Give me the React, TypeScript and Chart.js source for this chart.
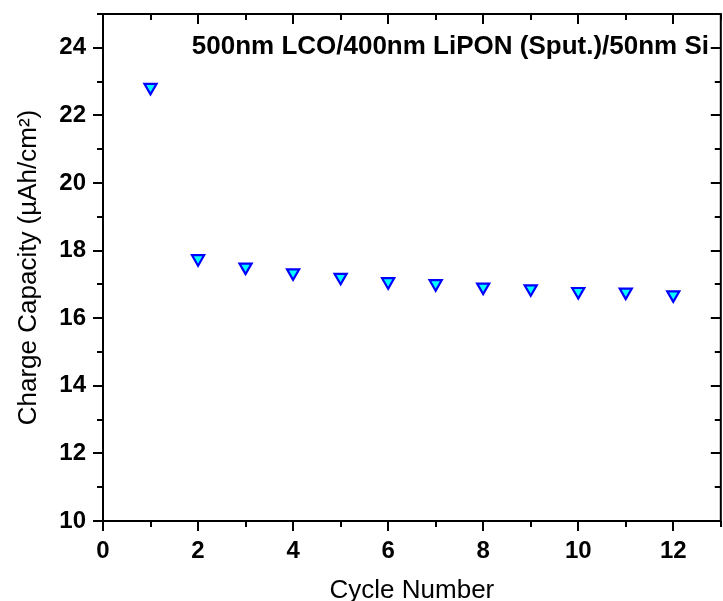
import React, { useEffect, useRef } from "react";
import { Chart, registerables } from "chart.js";

Chart.register(...registerables);

// Charge capacity per cycle
const cycles = [1, 2, 3, 4, 5, 6, 7, 8, 9, 10, 11, 12];
const capacity = [22.83, 17.76, 17.51, 17.34, 17.21, 17.08, 17.02, 16.92, 16.87, 16.79, 16.77, 16.69];

const xTickValues = [0, 2, 4, 6, 8, 10, 12];
const yTickValues = [10, 12, 14, 16, 18, 20, 22, 24];

const cellLabel = "500nm LCO/400nm LiPON (Sput.)/50nm Si";
const xTitle = "Cycle Number";
const yTitle = "Charge Capacity (\u00B5Ah/cm\u00B2)";

const FONT = "'Liberation Sans', Arial, Helvetica, sans-serif";

// Draws the closed frame with Origin-style major/minor ticks and the cell label
const framePlugin = {
  id: "frame",
  afterDraw(chart: any) {
    const { ctx, chartArea, scales } = chart;
    const { left, right, top, bottom } = chartArea;
    const xs = scales.x;
    const ys = scales.y;
    ctx.save();
    ctx.strokeStyle = "#000";
    ctx.lineWidth = 2;
    ctx.strokeRect(left, top, right - left, bottom - top);

    const major = 10;
    const minor = 6;
    ctx.beginPath();
    for (let v = Math.ceil(xs.min); v <= xs.max; v++) {
      const px = Math.round(xs.getPixelForValue(v));
      const len = v % 2 === 0 ? major : minor;
      ctx.moveTo(px, bottom);
      ctx.lineTo(px, bottom + len);
      ctx.moveTo(px, top);
      ctx.lineTo(px, top + len);
    }
    for (let v = Math.ceil(ys.min); v <= ys.max; v++) {
      const py = Math.round(ys.getPixelForValue(v));
      const len = v % 2 === 0 ? major : minor;
      ctx.moveTo(left - len, py);
      ctx.lineTo(left, py);
      ctx.moveTo(right - len, py);
      ctx.lineTo(right, py);
    }
    ctx.stroke();

    ctx.fillStyle = "#000";
    ctx.font = `bold 26px ${FONT}`;
    ctx.textAlign = "right";
    ctx.textBaseline = "alphabetic";
    ctx.fillText(cellLabel, 709, 54);
    ctx.restore();
  },
};

export default function App() {
  const canvasRef = useRef<HTMLCanvasElement | null>(null);

  useEffect(() => {
    const canvas = canvasRef.current;
    if (!canvas) return;
    const chart = new Chart(canvas, {
      type: "scatter",
      data: {
        datasets: [
          {
            data: cycles.map((c, i) => ({ x: c, y: capacity[i] })),
            pointStyle: "triangle",
            rotation: 180,
            radius: 7,
            borderWidth: 2.2,
            backgroundColor: "#00FFFF",
            borderColor: "#0000FF",
            showLine: false,
          },
        ],
      },
      options: {
        responsive: false,
        animation: false,
        layout: { padding: { top: 14, right: 0, left: 0, bottom: 0 } },
        plugins: {
          legend: { display: false },
          tooltip: { enabled: false },
        },
        scales: {
          x: {
            type: "linear",
            min: 0,
            max: 13,
            grid: { display: false, drawTicks: false },
            border: { display: false },
            afterBuildTicks: (scale: any) => {
              scale.ticks = xTickValues.map((v) => ({ value: v }));
            },
            afterFit: (scale: any) => {
              scale.height = 80;
              scale.paddingLeft = 0;
              scale.paddingRight = 0;
            },
            ticks: {
              padding: 16,
              color: "#000",
              maxRotation: 0,
              autoSkip: false,
              font: { family: FONT, size: 24, weight: "bold" },
            },
            title: {
              display: true,
              text: xTitle,
              color: "#000",
              font: { family: FONT, size: 26 },
              padding: { top: 0, bottom: -5 },
            },
          },
          y: {
            type: "linear",
            min: 10,
            max: 25,
            grid: { display: false, drawTicks: false },
            border: { display: false },
            afterBuildTicks: (scale: any) => {
              scale.ticks = yTickValues.map((v) => ({ value: v }));
            },
            afterFit: (scale: any) => {
              scale.width = 103;
              scale.paddingTop = 0;
              scale.paddingBottom = 0;
            },
            ticks: {
              padding: 17,
              color: "#000",
              autoSkip: false,
              font: { family: FONT, size: 24, weight: "bold" },
            },
            title: {
              display: true,
              text: yTitle,
              color: "#000",
              font: { family: FONT, size: 26 },
              padding: { top: 13, bottom: 0 },
            },
          },
        },
      },
      plugins: [framePlugin],
    });
    return () => chart.destroy();
  }, []);

  return (
    <div
      style={{
        position: "fixed",
        left: 0,
        top: 0,
        width: 723,
        height: 601,
        overflow: "hidden",
        background: "#fff",
      }}
    >
      <canvas ref={canvasRef} width={730} height={601} style={{ display: "block" }} />
    </div>
  );
}
